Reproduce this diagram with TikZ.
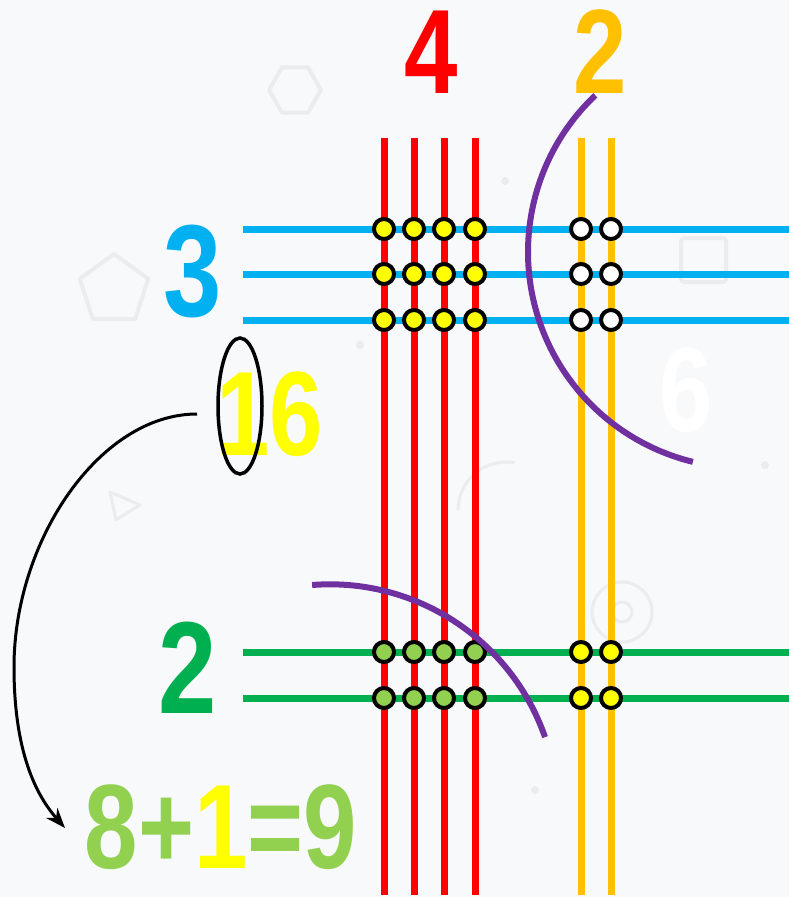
\documentclass[tikz,border=0pt]{standalone}
\usepackage{fontspec}
\newfontfamily\numfont{Liberation Sans}[FakeStretch=0.8]
\usetikzlibrary{arrows.meta,shapes.geometric}
\definecolor{cred}{HTML}{FF0000}
\definecolor{corange}{HTML}{FFC000}
\definecolor{cblue}{HTML}{00B0F0}
\definecolor{cgreen}{HTML}{00B050}
\definecolor{clgreen}{HTML}{92D050}
\definecolor{cyellow}{HTML}{FFFF00}
\definecolor{cpurple}{HTML}{7030A0}
\definecolor{bgc}{HTML}{F8F9FB}
\definecolor{deco}{HTML}{EBECEE}
\tikzset{
  big/.style={font=\numfont\bfseries\fontsize{120}{120}\selectfont, inner sep=0pt, anchor=base},
  bigger/.style={font=\numfont\bfseries\fontsize{131}{131}\selectfont, inner sep=0pt, anchor=base},
  gline/.style={line width=7pt},
  dot/.style={draw=black, line width=4pt},
  arcline/.style={cpurple, line width=6pt},
  decoline/.style={deco, line width=4pt, line join=round}
}
\begin{document}
\begin{tikzpicture}[x=1pt,y=1pt]
\fill[bgc] (0,0) rectangle (789,-897);
\useasboundingbox (0,0) rectangle (789,-897);
% faint background decorations
\draw[decoline] (114,-290) +(90:36pt) -- +(162:36pt) -- +(234:36pt) -- +(306:36pt) -- +(18:36pt) -- cycle;
\draw[decoline] (295,-90) +(0:26pt) -- +(60:26pt) -- +(120:26pt) -- +(180:26pt) -- +(240:26pt) -- +(300:26pt) -- cycle;
\draw[decoline, rounded corners=3pt] (681,-238) rectangle (726,-282);
\draw[decoline, line width=3pt] (110,-492) -- (140,-505) -- (116,-520) -- cycle;
\draw[decoline, line width=3pt] (622,-612) circle (30pt);
\draw[decoline, line width=3pt] (622,-612) circle (10pt);
\draw[decoline, line width=3pt] (458,-510) arc[start angle=180, end angle=80, radius=48pt];
\fill[deco] (505,-181) circle (4pt);
\fill[deco] (360,-345) circle (4pt);
\fill[deco] (535,-790) circle (4pt);
\fill[deco] (765,-465) circle (4pt);
% lines
\foreach \x in {384,414,444,475} \draw[cred,gline] (\x,-138) -- (\x,-895);
\foreach \x in {581,611} \draw[corange,gline] (\x,-138) -- (\x,-895);
\foreach \y in {229,274,320} \draw[cblue,gline] (243,-\y) -- (789,-\y);
\foreach \y in {652,698} \draw[cgreen,gline] (243,-\y) -- (789,-\y);
% intersection dots
\foreach \x in {384,414,444,475} \foreach \y in {229,274,320} \draw[dot,fill=cyellow] (\x,-\y) circle (10pt);
\foreach \x in {581,611} \foreach \y in {229,274,320} \draw[dot,fill=white] (\x,-\y) circle (10pt);
\foreach \x in {384,414,444,475} \foreach \y in {652,698} \draw[dot,fill=clgreen] (\x,-\y) circle (10pt);
\foreach \x in {581,611} \foreach \y in {652,698} \draw[dot,fill=cyellow] (\x,-\y) circle (10pt);
% numbers
\node[big, text=cred] (n4) at (431,-93) {4};
\node[big, text=corange] (n2o) at (600,-93) {2};
\node[bigger, text=cblue] (n3) at (193,-316) {3};
\node[bigger, text=cgreen] (n2g) at (188,-713) {2};
\node[big, text=cyellow] (n16) at (270,-455) {16};
\node[big, text=white] (n6) at (686,-431) {6};
\node[big] (eq) at (221,-868) {\textcolor{clgreen}{8+}\textcolor{cyellow}{1}\textcolor{clgreen}{=9}};
% ellipse and arrow
\node[draw, ellipse, line width=3.5pt, minimum width=44pt, minimum height=136pt, inner sep=0pt] (ell) at (240,-406) {};
\coordinate (as) at (197,-414);
\coordinate (ae) at (65,-828);
\draw[line width=3pt, -{Stealth[length=20pt,width=15pt]}] (as) .. controls (100,-414) and (14,-540) .. (14,-667) .. controls (14,-752) and (36,-795) .. (ae);
% purple arcs
\draw[arcline] (744,-252) ++(133.5:216pt) arc[start angle=133.5, end angle=256.3, radius=216pt];
\draw[arcline] (330,-812) ++(94.5:227.7pt) arc[start angle=94.5, end angle=19.2, radius=227.7pt];
\end{tikzpicture}
\end{document}
